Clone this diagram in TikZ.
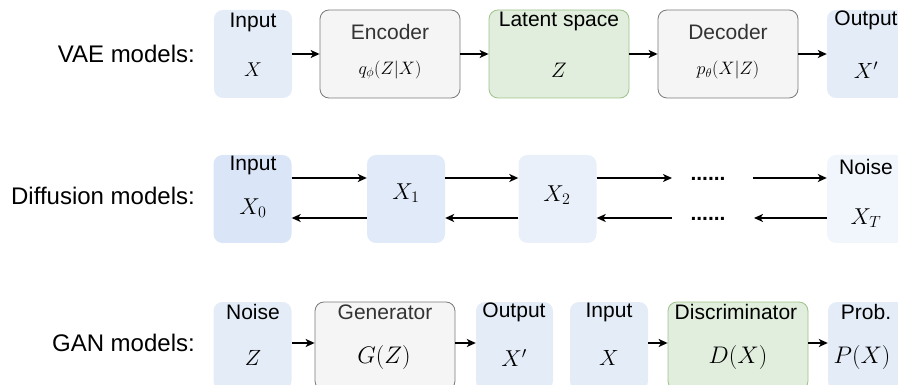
\RequirePackage{fix-cm}
\documentclass[tikz,border=0pt]{standalone}
\usepackage[no-math]{fontspec}
\newfontfamily\arial{Liberation Sans}
\usetikzlibrary{arrows.meta}

\definecolor{bluefill}{HTML}{E4ECF8}
\definecolor{bluedark}{HTML}{DAE6F8}
\definecolor{bluemid}{HTML}{E1EAF8}
\definecolor{bluelight}{HTML}{EAF0FA}
\definecolor{bluefaint}{HTML}{F1F5FC}
\definecolor{grayfill}{HTML}{F5F5F5}
\definecolor{graystroke}{HTML}{7A7A7A}
\definecolor{greenfill}{HTML}{E1EEDD}
\definecolor{greenstroke}{HTML}{9CC38A}
\definecolor{textgray}{HTML}{333333}

\begin{document}
\begin{tikzpicture}[x=1pt, y=-1pt,
  blk/.style={rectangle, rounded corners=9pt, inner sep=0pt, minimum height=88pt},
  bbox/.style={blk, fill=#1, draw=none, minimum width=78pt},
  gbox/.style={blk, fill=grayfill, draw=graystroke, line width=0.8pt, minimum width=140pt},
  lbox/.style={blk, fill=greenfill, draw=greenstroke, line width=0.8pt, minimum width=140pt},
  lbl/.style={font=\arial\fontsize{21}{24}\selectfont, inner sep=0pt},
  glbl/.style={lbl, text=textgray},
  side/.style={font=\arial\fontsize{24}{28}\selectfont, anchor=east, inner sep=0pt},
  mth/.style={font=\fontsize{#1}{#1}\selectfont, inner sep=0pt},
  dots/.style={font=\arial\bfseries\fontsize{21}{24}\selectfont, inner sep=0pt, anchor=base},
  arr/.style={line width=1.5pt, -{Stealth[length=9pt,width=8pt,inset=2.5pt]}}
]
\useasboundingbox (0,0) rectangle (898,385);
\clip (0,0) rectangle (898,385);

% ---------- row titles ----------
\node[side] (tvae) at (195,54) {VAE models:};
\node[side] (tdif) at (195,196) {Diffusion models:};
\node[side] (tgan) at (195,343) {GAN models:};

% ---------- VAE ----------
\node[bbox=bluefill] (vin)  at (253,54) {};
\node[gbox]          (venc) at (390,54) {};
\node[lbox]          (vlat) at (559,54) {};
\node[gbox]          (vdec) at (728,54) {};
\node[bbox=bluefill] (vout) at (866,54) {};

\node[lbl]  (vinL)  at (253,22) {Input};
\node[mth=20] (vinM) at (253,70) {$X$};
\node[glbl] (vencL) at (390,32) {Encoder};
\node[mth=18] (vencM) at (390,70) {$q_\phi(Z|X)$};
\node[lbl]  (vlatL) at (559,21) {Latent space};
\node[mth=21] (vlatM) at (559,70) {$Z$};
\node[glbl] (vdecL) at (728,32) {Decoder};
\node[mth=18] (vdecM) at (728,70) {$p_\theta(X|Z)$};
\node[lbl]  (voutL) at (866,20) {Output};
\node[mth=22] (voutM) at (866,70) {$X'$};

\draw[arr] (vin) -- (venc);
\draw[arr] (venc) -- (vlat);
\draw[arr] (vlat) -- (vdec);
\draw[arr] (vdec) -- (vout);

% ---------- Diffusion ----------
\coordinate (ytop) at (0,178);
\coordinate (ybot) at (0,218);

\node[bbox=bluedark]  (d0) at (252.5,199) {};
\node[bbox=bluemid]   (d1) at (406,199) {};
\node[bbox=bluelight] (d2) at (557.5,199) {};
\node[bbox=bluefaint] (dT) at (866,199) {};

\node[lbl]    (d0L) at (253,165) {Input};
\node[mth=23] (d0M) at (253,208) {$X_0$};
\node[mth=23] (d1M) at (406,193) {$X_1$};
\node[mth=23] (d2M) at (557,195) {$X_2$};
\node[lbl]    (dTL) at (866,167) {Noise};
\node[mth=23] (dTM) at (866,218) {$X_T$};

\node[dots] (dtop) at (708,181) {......};
\node[dots] (dbot) at (708,221) {......};

% forward (noising) chain
\draw[arr] (d0.east |- ytop) -- (d1.west |- ytop);
\draw[arr] (d1.east |- ytop) -- (d2.west |- ytop);
\draw[arr] (d2.east |- ytop) -- (672,178);
\draw[arr] (753,178) -- (dT.west |- ytop);
% reverse (denoising) chain
\draw[arr] (dT.west |- ybot) -- (754,218);
\draw[arr] (672,218) -- (d2.east |- ybot);
\draw[arr] (d2.west |- ybot) -- (d1.east |- ybot);
\draw[arr] (d1.west |- ybot) -- (d0.east |- ybot);

% ---------- GAN ----------
\coordinate (ygan) at (0,343);

\node[bbox=bluefill] (gn) at (252.5,346) {};
\node[gbox]          (gg) at (385,346) {};
\node[bbox=bluefill, minimum width=77pt] (go) at (514.5,346) {};
\node[bbox=bluefill] (gi) at (609,346) {};
\node[lbox]          (gd) at (738,346) {};
\node[bbox=bluefill] (gp) at (867,346) {};

\node[lbl]    (gnL) at (253,312) {Noise};
\node[mth=22] (gnM) at (253,358) {$Z$};
\node[glbl]   (ggL) at (385,312) {Generator};
\node[mth=24] (ggM) at (384,358) {$G(Z)$};
\node[lbl]    (goL) at (514,312) {Output};
\node[mth=23] (goM) at (514,358) {$X'$};
\node[lbl]    (giL) at (609,312) {Input};
\node[mth=22] (giM) at (609,358) {$X$};
\node[lbl]    (gdL) at (736,312) {Discriminator};
\node[mth=24] (gdM) at (738,358) {$D(X)$};
\node[lbl]    (gpL) at (866,312) {Prob.};
\node[mth=24] (gpM) at (862,358) {$P(X)$};

\draw[arr] (gn.east |- ygan) -- (gg.west |- ygan);
\draw[arr] (gg.east |- ygan) -- (go.west |- ygan);
\draw[arr] (gi.east |- ygan) -- (gd.west |- ygan);
\draw[arr] (gd.east |- ygan) -- (gp.west |- ygan);
\end{tikzpicture}
\end{document}
